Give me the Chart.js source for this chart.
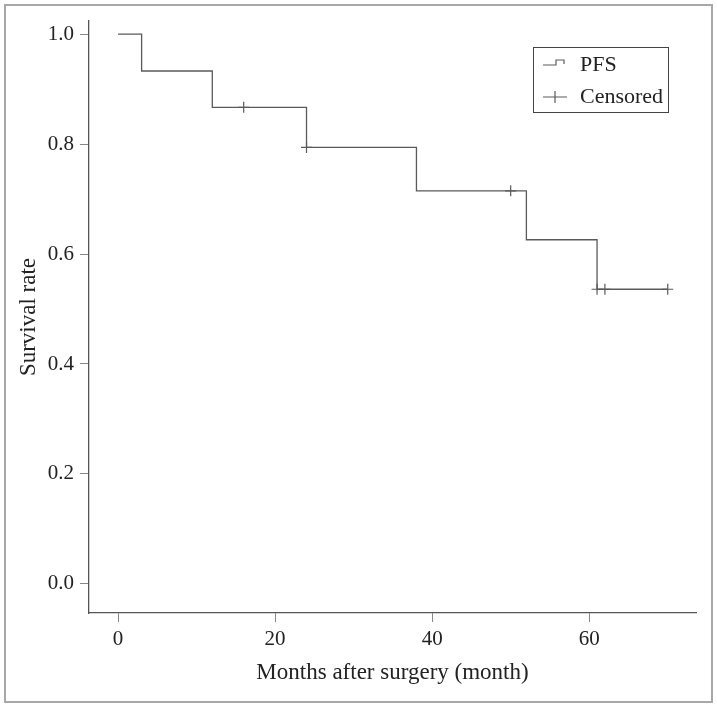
<!DOCTYPE html>
<html>
<head>
<meta charset="utf-8">
<script src="https://cdn.jsdelivr.net/npm/chart.js@4"></script>
<style>
  body { margin: 0; background: #fff; }
  #wrap { position: relative; width: 717px; height: 706px; }
  #frame { position: absolute; left: 4px; top: 4px; width: 705px; height: 695px; border: 2px solid #a8a8a8; }
  canvas { position: absolute; left: 0; top: 0; }
</style>
</head>
<body>
<div id="wrap">
  <div id="frame"></div>
  <canvas id="km" width="717" height="706"></canvas>
</div>
<script>
// Kaplan-Meier steps (month, survival)
const stepMonths = [0, 3, 12, 24, 38, 52, 61, 70];
const stepSurvival = [1.0, 0.933, 0.867, 0.794, 0.715, 0.626, 0.536, 0.536];

// censored observations
const censorMonths = [16, 24, 50, 61, 62, 70];
const censorSurvival = [0.867, 0.794, 0.715, 0.536, 0.536, 0.536];

const xTicks = [0, 20, 40, 60];
const yTicks = [0.0, 0.2, 0.4, 0.6, 0.8, 1.0];

const FONT = "'Liberation Serif', 'DejaVu Serif', serif";
const LINE = "#5a5a5a";

const legendBox = {
  id: "legendBox",
  afterDraw(chart) {
    const ctx = chart.ctx;
    ctx.save();
    ctx.strokeStyle = "#444";
    ctx.lineWidth = 1;
    ctx.strokeRect(533.5, 47.5, 135, 65);

    ctx.strokeStyle = LINE;
    ctx.lineWidth = 1.2;
    // step icon
    ctx.beginPath();
    ctx.moveTo(543, 65);
    ctx.lineTo(556, 65);
    ctx.lineTo(556, 60);
    ctx.lineTo(564, 60);
    ctx.lineTo(564, 64);
    ctx.stroke();
    // cross icon
    ctx.beginPath();
    ctx.moveTo(543, 97);
    ctx.lineTo(567, 97);
    ctx.moveTo(555, 91);
    ctx.lineTo(555, 103);
    ctx.stroke();

    ctx.fillStyle = "#222";
    ctx.font = "22px " + FONT;
    ctx.textBaseline = "alphabetic";
    ctx.fillText("PFS", 580, 71);
    ctx.fillText("Censored", 580, 103);
    ctx.restore();
  }
};

new Chart(document.getElementById("km"), {
  type: "scatter",
  data: {
    datasets: [
      {
        label: "PFS",
        data: stepMonths.map((m, i) => ({ x: m, y: stepSurvival[i] })),
        showLine: true,
        stepped: true,
        borderColor: LINE,
        borderWidth: 1.3,
        pointRadius: 0,
        fill: false
      },
      {
        label: "Censored",
        data: censorMonths.map((m, i) => ({ x: m, y: censorSurvival[i] })),
        pointStyle: "cross",
        pointRadius: 5.5,
        borderColor: LINE,
        borderWidth: 1.2,
        backgroundColor: LINE
      }
    ]
  },
  options: {
    responsive: false,
    animation: false,
    layout: { padding: { top: 21, right: 21, left: 0, bottom: 0 } },
    plugins: { legend: { display: false }, tooltip: { enabled: false } },
    scales: {
      x: {
        type: "linear",
        min: -3.7,
        max: 73.6,
        afterBuildTicks: s => { s.ticks = xTicks.map(v => ({ value: v })); },
        afterFit: s => { s.height = 93; },
        grid: { drawOnChartArea: false, drawTicks: true, tickLength: 9, color: "#888" },
        border: { display: true, color: "#555", width: 1.3 },
        ticks: { color: "#222", font: { family: FONT, size: 21 }, padding: 5, callback: v => v },
        title: { display: true, text: "Months after surgery (month)", color: "#222", font: { family: FONT, size: 23 }, padding: { top: 0, bottom: 19 } }
      },
      y: {
        type: "linear",
        min: -0.053,
        max: 1.024,
        afterBuildTicks: s => { s.ticks = yTicks.map(v => ({ value: v })); },
        afterFit: s => { s.width = 89; },
        grid: { drawOnChartArea: false, drawTicks: true, tickLength: 9, color: "#888" },
        border: { display: true, color: "#555", width: 1.3 },
        ticks: { color: "#222", font: { family: FONT, size: 21 }, padding: 6, callback: v => v.toFixed(1) },
        title: { display: true, text: "Survival rate", color: "#222", font: { family: FONT, size: 23 }, padding: { top: 15, bottom: 0 } }
      }
    }
  },
  plugins: [legendBox]
});
</script>
</body>
</html>
